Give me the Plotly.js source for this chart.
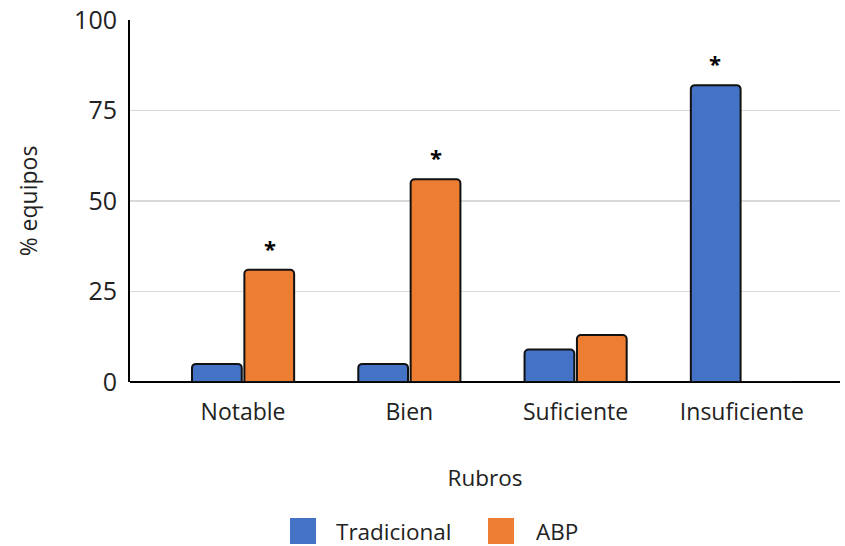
<!DOCTYPE html>
<html>
<head>
<meta charset="utf-8">
<script src="https://cdn.plot.ly/plotly-3.0.1.min.js"></script>
<style>html,body{margin:0;padding:0;background:#fff;}#chart{width:845px;height:546px;}</style>
</head>
<body>
<div id="chart"></div>
<script>
const categories = ['Notable', 'Bien', 'Suficiente', 'Insuficiente'];
const seriesNames = ['Tradicional', 'ABP'];
const tradicional = [5, 5, 9, 82];
const abp = [31, 56, 13, 0];
const tradStar = [false, false, false, true];
const abpStar = [true, true, false, false];
const yTicks = [0, 25, 50, 75, 100];
const colors = ['#4472C4', '#ED7D31'];

const txtColor = '#222';
const font = 'Open Sans, sans-serif';

const traces = [tradicional, abp].map((vals, i) => ({
  type: 'bar',
  name: seriesNames[i],
  x: categories,
  y: vals,
  marker: {color: colors[i], line: {color: '#111', width: 2}},
  showlegend: false,
  hoverinfo: 'x+y+name'
}));

const annotations = [];
[[tradicional, tradStar, -27], [abp, abpStar, 27]].forEach(([vals, stars, shift]) => {
  vals.forEach((v, j) => {
    if (stars[j]) annotations.push({
      x: categories[j], y: v, xref: 'x', yref: 'y', text: '<b>*</b>', showarrow: false,
      xshift: shift, yshift: 22, font: {family: font, size: 22, color: '#000'}
    });
  });
});

// custom legend
const shapes = [];
const legendX = [290, 488];
const textX = [334, 534];
seriesNames.forEach((n, i) => {
  shapes.push({type: 'rect', xref: 'paper', yref: 'paper',
    x0: (legendX[i] - 130) / 710, x1: (legendX[i] + 26 - 130) / 710,
    y0: -(518 - 382) / 362, y1: -(544 - 382) / 362,
    fillcolor: colors[i], line: {width: 0}});
  annotations.push({xref: 'paper', yref: 'paper', x: (textX[i] - 130) / 710, y: -(531 - 382) / 362,
    xanchor: 'left', yanchor: 'middle', text: n, showarrow: false,
    font: {family: font, size: 22.5, color: txtColor}});
});

const layout = {
  width: 845, height: 546,
  margin: {l: 130, r: 5, t: 20, b: 164},
  paper_bgcolor: '#fff', plot_bgcolor: '#fff',
  barmode: 'group', bargap: 0.37, bargroupgap: 0.05,
  barcornerradius: 4,
  font: {family: font, color: txtColor},
  xaxis: {
    type: 'category', range: [-0.68, 3.59],
    showgrid: false, showline: false, zeroline: false,
    ticks: '', ticklabelstandoff: 14,
    tickfont: {family: font, size: 23, color: txtColor},
    title: {text: 'Rubros', font: {family: font, size: 22.5, color: txtColor}, standoff: 44}
  },
  yaxis: {
    range: [0, 100], tickvals: yTicks, ticktext: yTicks.map(String),
    showgrid: true, gridcolor: '#d9d9d9', gridwidth: 1.5,
    showline: true, linecolor: '#000', linewidth: 2,
    zeroline: true, zerolinecolor: '#000', zerolinewidth: 1.5,
    ticks: '', ticklabelstandoff: 6,
    tickfont: {family: font, size: 25, color: txtColor},
    title: {text: '% equipos', font: {family: font, size: 23, color: txtColor}, standoff: 30}
  },
  shapes: shapes,
  annotations: annotations
};

Plotly.newPlot('chart', traces, layout, {displayModeBar: false, staticPlot: true});
</script>
</body>
</html>
